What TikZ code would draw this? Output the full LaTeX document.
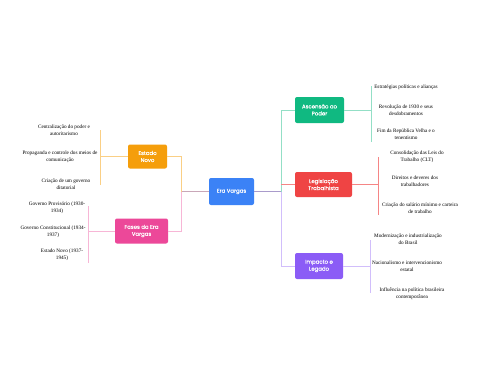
\documentclass[tikz,border=0pt]{standalone}
\usepackage{fontspec}
\setmainfont{Liberation Serif}
\newfontfamily\boxfont[RawFeature={embolden=0.4}]{Poppins}
\definecolor{cblue}{HTML}{3B82F6}
\definecolor{corange}{HTML}{F59E0B}
\definecolor{cpink}{HTML}{EC4899}
\definecolor{cgreen}{HTML}{10B981}
\definecolor{cred}{HTML}{EF4444}
\definecolor{cpurple}{HTML}{8B5CF6}
\tikzset{
  topic/.style={rounded corners=2pt, text=white, align=center, inner sep=1pt,
    font=\boxfont\fontsize{5.4}{7}\selectfont},
  leaf/.style={align=center, inner sep=0pt, font=\fontsize{5.2}{7.4}\selectfont},
  link/.style={line width=0.6pt},
  mainlink/.style={line width=1.1pt}
}
\begin{document}
\begin{tikzpicture}[x=1pt,y=-1pt]
\useasboundingbox[fill=white] (0,0) rectangle (480,384);

% central topic
\node[topic, fill=cblue, minimum width=45pt, minimum height=27pt] (era) at (231.5,191.5) {Era Vargas};

% left topics
\node[topic, fill=corange, minimum width=39pt, minimum height=24pt] (estado) at (147.5,156.5) {Estado\\Novo};
\node[topic, fill=cpink, minimum width=53pt, minimum height=25pt] (fases) at (141.5,231) {Fases da Era\\Vargas};

% right topics
\node[topic, fill=cgreen, minimum width=49pt, minimum height=26pt] (ascensao) at (319.5,110) {Ascensão ao\\Poder};
\node[topic, fill=cred, minimum width=57pt, minimum height=25pt] (legis) at (323.5,184.5) {Legislação\\Trabalhista};
\node[topic, fill=cpurple, minimum width=48pt, minimum height=26pt] (impacto) at (319,266) {Impacto e\\Legado};

% junctions
\coordinate (jl) at (181.5,191.5);
\coordinate (jr) at (281,191.5);
\draw[mainlink, cpink!35!gray!60] (era.west) -- (jl);
\draw[link, corange!50] (estado.east) -| (jl);
\draw[link, cpink!40] (fases.east) -| (jl);
\draw[mainlink, cpurple!45!gray!70] (era.east) -- (jr);
\draw[link, cgreen!45] (ascensao.west) -| (jr);
\draw[link, cred!65] (legis.west) -- (legis.west -| jr);
\draw[link, cpurple!40] (impacto.west) -| (jr);

% Estado Novo
\node[leaf] (e1) at (64,130) {Centralização do poder e\\autoritarismo};
\node[leaf] (e2) at (60,157) {Propaganda e controle dos meios de\\comunicação};
\node[leaf] (e3) at (66,184) {Criação de um governo\\ditatorial};
\coordinate (ej) at (100,156.5);
\draw[link, corange!50] (100,130) -- (100,185);
\draw[link, corange!50] (estado.west) -- (ej);

% Fases da Era Vargas
\node[leaf] (f1) at (57,208) {Governo Provisório (1930-\\1934)};
\node[leaf] (f2) at (53,231.5) {Governo Constitucional (1934-\\1937)};
\node[leaf] (f3) at (62,255) {Estado Novo (1937-\\1945)};
\coordinate (fj) at (88,231);
\draw[link, cpink!40] (88,206) -- (88,263);
\draw[link, cpink!40] (fases.west) -- (fj);

% Ascensao ao Poder
\node[leaf] (a1) at (406,87) {Estratégias políticas e alianças};
\node[leaf] (a2) at (406,110) {Revolução de 1930 e seus\\desdobramentos};
\node[leaf] (a3) at (406,134) {Fim da República Velha e o\\tenentismo};
\coordinate (aj) at (371,110);
\draw[link, cgreen!45] (371,86) -- (371,142);
\draw[link, cgreen!45] (ascensao.east) -- (aj);

% Legislacao Trabalhista
\node[leaf] (l1) at (417,157) {Consolidação das Leis do\\Trabalho (CLT)};
\node[leaf] (l2) at (415,181) {Direitos e deveres dos\\trabalhadores};
\node[leaf] (l3) at (420,208) {Criação do salário mínimo e carteira\\de trabalho};
\coordinate (lj) at (378,184.5);
\draw[link, cred!65] (378,157) -- (378,215);
\draw[link, cred!65] (legis.east) -- (lj);

% Impacto e Legado
\node[leaf] (i1) at (408,239) {Modernização e industrialização\\do Brasil};
\node[leaf] (i2) at (407,266.5) {Nacionalismo e intervencionismo\\estatal};
\node[leaf] (i3) at (412,293.5) {Influência na política brasileira\\contemporânea};
\coordinate (ij) at (370,266);
\draw[link, cpurple!40] (370,240) -- (370,293);
\draw[link, cpurple!40] (impacto.east) -- (ij);
\end{tikzpicture}
\end{document}
